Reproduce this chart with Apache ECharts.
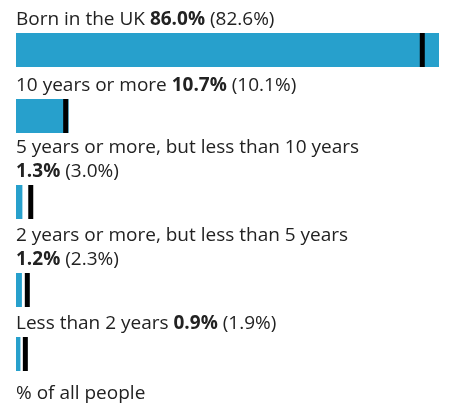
<!DOCTYPE html>
<html>
<head>
<meta charset="utf-8">
<script src="https://cdn.jsdelivr.net/npm/echarts@6/dist/echarts.min.js"></script>
<style>
html,body{margin:0;padding:0;background:#fff;}
#chart{width:451px;height:405px;}
</style>
</head>
<body>
<div id="chart"></div>
<script>
const categories = [
  'Born in the UK',
  '10 years or more',
  '5 years or more, but less than 10 years',
  '2 years or more, but less than 5 years',
  'Less than 2 years'
];
const areaValues = [86.0, 10.7, 1.3, 1.2, 0.9];
const comparisonValues = [82.6, 10.1, 3.0, 2.3, 1.9];
const footerLabel = '% of all people';

const barColor = '#27a0cc';
const markColor = '#000000';
const textColor = '#222222';
const font = '"Open Sans", "Noto Sans", sans-serif';
const fontSize = 19;
const gridTops = [33, 99, 185, 273, 337];
const barH = 34;
const wrapWidth = 423;
const xMax = Math.max(...areaValues);

const ctx = document.createElement('canvas').getContext('2d');
function measure(txt, bold) {
  ctx.font = (bold ? 'bold ' : '') + fontSize + 'px ' + font;
  return ctx.measureText(txt).width;
}
function labelText(i) {
  const cat = categories[i];
  const v = areaValues[i].toFixed(1) + '%';
  const c = '(' + comparisonValues[i].toFixed(1) + '%)';
  const w = measure(cat + ' ') + measure(v, true) + measure(' ' + c);
  const sep = w > wrapWidth ? '\n' : ' ';
  return '{n|' + cat + '}' + sep + '{b|' + v + '}{n| ' + c + '}';
}

const grids = [], xAxes = [], yAxes = [], series = [];
categories.forEach((cat, i) => {
  grids.push({left: 16, right: 12, top: gridTops[i], height: barH});
  xAxes.push({type: 'value', gridIndex: i, min: 0, max: xMax, show: false});
  yAxes.push({type: 'category', gridIndex: i, data: [cat], show: false});
  series.push({
    type: 'bar', xAxisIndex: i, yAxisIndex: i,
    data: [areaValues[i]], barWidth: barH,
    itemStyle: {color: barColor},
    label: {
      show: true,
      position: [0, -1],
      align: 'left',
      verticalAlign: 'bottom',
      lineHeight: 24,
      fontFamily: font,
      fontSize: fontSize,
      color: textColor,
      formatter: () => labelText(i),
      rich: {
        n: {fontFamily: font, fontSize: fontSize, color: textColor, lineHeight: 24},
        b: {fontFamily: font, fontSize: fontSize, fontWeight: 'bold', color: textColor, lineHeight: 24}
      }
    },
    silent: true
  });
  series.push({
    type: 'scatter', xAxisIndex: i, yAxisIndex: i,
    data: [[comparisonValues[i], cat]],
    symbol: 'rect', symbolSize: [5, barH],
    itemStyle: {color: markColor, opacity: 1},
    z: 5, silent: true
  });
});

const chart = echarts.init(document.getElementById('chart'), null, {renderer: 'canvas'});
chart.setOption({
  animation: false,
  backgroundColor: '#ffffff',
  title: {
    text: footerLabel, left: 16, top: 384, padding: 0,
    textStyle: {fontFamily: font, fontSize: fontSize, fontWeight: 'normal', color: textColor}
  },
  grid: grids, xAxis: xAxes, yAxis: yAxes, series: series
});
</script>
</body>
</html>
